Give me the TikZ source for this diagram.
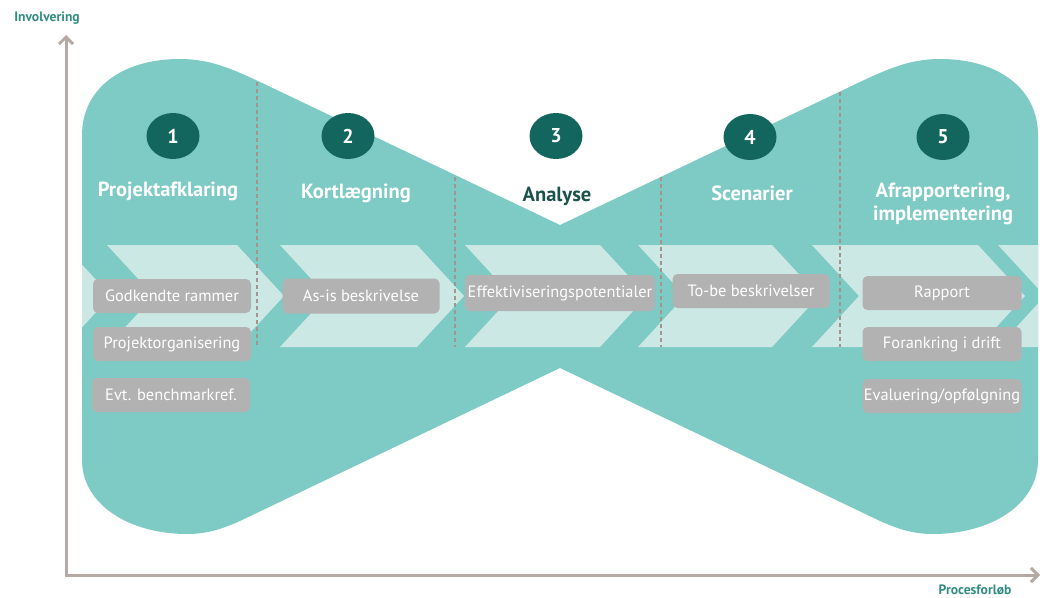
\documentclass[tikz,border=0pt]{standalone}
\usepackage{fontspec}
\setmainfont{PT Sans}
\usetikzlibrary{arrows.meta,shapes.geometric}
\definecolor{shapeteal}{RGB}{126,202,196}
\definecolor{bandlight}{RGB}{204,232,229}
\definecolor{darkteal}{RGB}{18,102,94}
\definecolor{boxgray}{RGB}{178,178,178}
\definecolor{axisgray}{RGB}{182,168,162}
\definecolor{dashgray}{RGB}{165,148,142}
\definecolor{labelteal}{RGB}{50,140,130}
\definecolor{analysedark}{RGB}{28,82,76}
\tikzset{
  numcirc/.style={ellipse, fill=darkteal, text=white, minimum width=53pt, minimum height=46pt, inner sep=0pt, font=\bfseries\fontsize{20}{24}\selectfont},
  phasetitle/.style={text=white, align=center, inner sep=0pt, font=\bfseries\fontsize{20.5}{23}\selectfont},
  gbox/.style={fill=boxgray, text=white, rounded corners=5pt, minimum height=34pt, inner sep=0pt, font=\fontsize{16.4}{18}\selectfont},
  divider/.style={dashgray, line width=1.4pt, dash pattern=on 4pt off 3pt},
  axis/.style={axisgray, line width=3pt, line join=miter},
  axlabel/.style={labelteal, inner sep=0pt, font=\bfseries\fontsize{13.6}{15}\selectfont}
}
\begin{document}
\begin{tikzpicture}[x=1pt,y=-1pt]
\useasboundingbox (0,0) rectangle (1044,597);
\def\bowtie{(82,135) .. controls (82,90) and (120,59) .. (180,59) .. controls (210,59) and (232,69) .. (258,81) -- (560,225) -- (862,81) .. controls (888,69) and (910,59) .. (940,59) .. controls (1000,59) and (1038,90) .. (1038,135) -- (1038,460) .. controls (1038,505) and (990,534) .. (933,534) .. controls (915,534) and (900,530) .. (880,521) -- (560,368) -- (240,521) .. controls (220,530) and (205,534) .. (187,534) .. controls (130,534) and (82,505) .. (82,460) -- cycle}
\fill[shapeteal] \bowtie;
\begin{scope}
  \clip \bowtie;
  \foreach \L/\R in {-80/64,107/237,280/417,465/600,638/772,812/978,998/1200}
    \fill[bandlight] (\L,245) -- (\R,245) -- (\R+47,296) -- (\R,347) -- (\L,347) -- (\L+47,296) -- cycle;
\end{scope}
% dividers
\coordinate (d1t) at (257,82);  \coordinate (d1b) at (257,347);
\coordinate (d2t) at (455,177); \coordinate (d2b) at (455,347);
\coordinate (d3t) at (661,177); \coordinate (d3b) at (661,347);
\coordinate (d4t) at (840,92);  \coordinate (d4b) at (840,347);
\draw[divider] (d1t) -- (d1b);
\draw[divider] (d2t) -- (d2b);
\draw[divider] (d3t) -- (d3b);
\draw[divider] (d4t) -- (d4b);
% axes
\coordinate (ytip) at (66,35);
\coordinate (origin) at (66,575);
\coordinate (xtip) at (1040,575);
\draw[axis, {Straight Barb[length=7pt,width=14pt]}-{Straight Barb[length=7pt,width=14pt]}] (ytip) -- (origin) -- (xtip);
\node[axlabel] (ylab) at (47,18) {Involvering};
\node[axlabel] (xlab) at (975,590) {Procesforløb};
% numbers
\node[numcirc] (n1) at (173,136) {1};
\node[numcirc] (n2) at (348,136) {2};
\node[numcirc] (n3) at (556,136) {3};
\node[numcirc] (n4) at (750,137) {4};
\node[numcirc] (n5) at (943,137) {5};
% titles
\node[phasetitle] (t1) at (168,191) {Projektafklaring};
\node[phasetitle] (t2) at (356,193) {Kortlægning};
\node[phasetitle, text=analysedark] (t3) at (557,196) {Analyse};
\node[phasetitle] (t4) at (752,193) {Scenarier};
\node[phasetitle] (t5) at (943,204) {Afrapportering,\\implementering};
% boxes
\node[gbox, minimum width=158pt] (b1) at (172,296) {Godkendte rammer};
\node[gbox, minimum width=158pt] (b2) at (172,344) {Projektorganisering};
\node[gbox, minimum width=158pt] (b3) at (171,395) {Evt. benchmarkref.};
\node[gbox, minimum width=157pt, minimum height=35pt] (b4) at (361,296) {As-is beskrivelse};
\node[gbox, minimum width=190pt, minimum height=36pt] (b5) at (560,293) {Effektiviseringspotentialer};
\node[gbox, minimum width=157pt] (b6) at (751,291) {To-be beskrivelser};
\node[gbox, minimum width=159pt] (b7) at (942,293) {Rapport};
\node[gbox, minimum width=159pt] (b8) at (942,344) {Forankring i drift};
\node[gbox, minimum width=159pt] (b9) at (942,396) {Evaluering/opfølgning};
\end{tikzpicture}
\end{document}
